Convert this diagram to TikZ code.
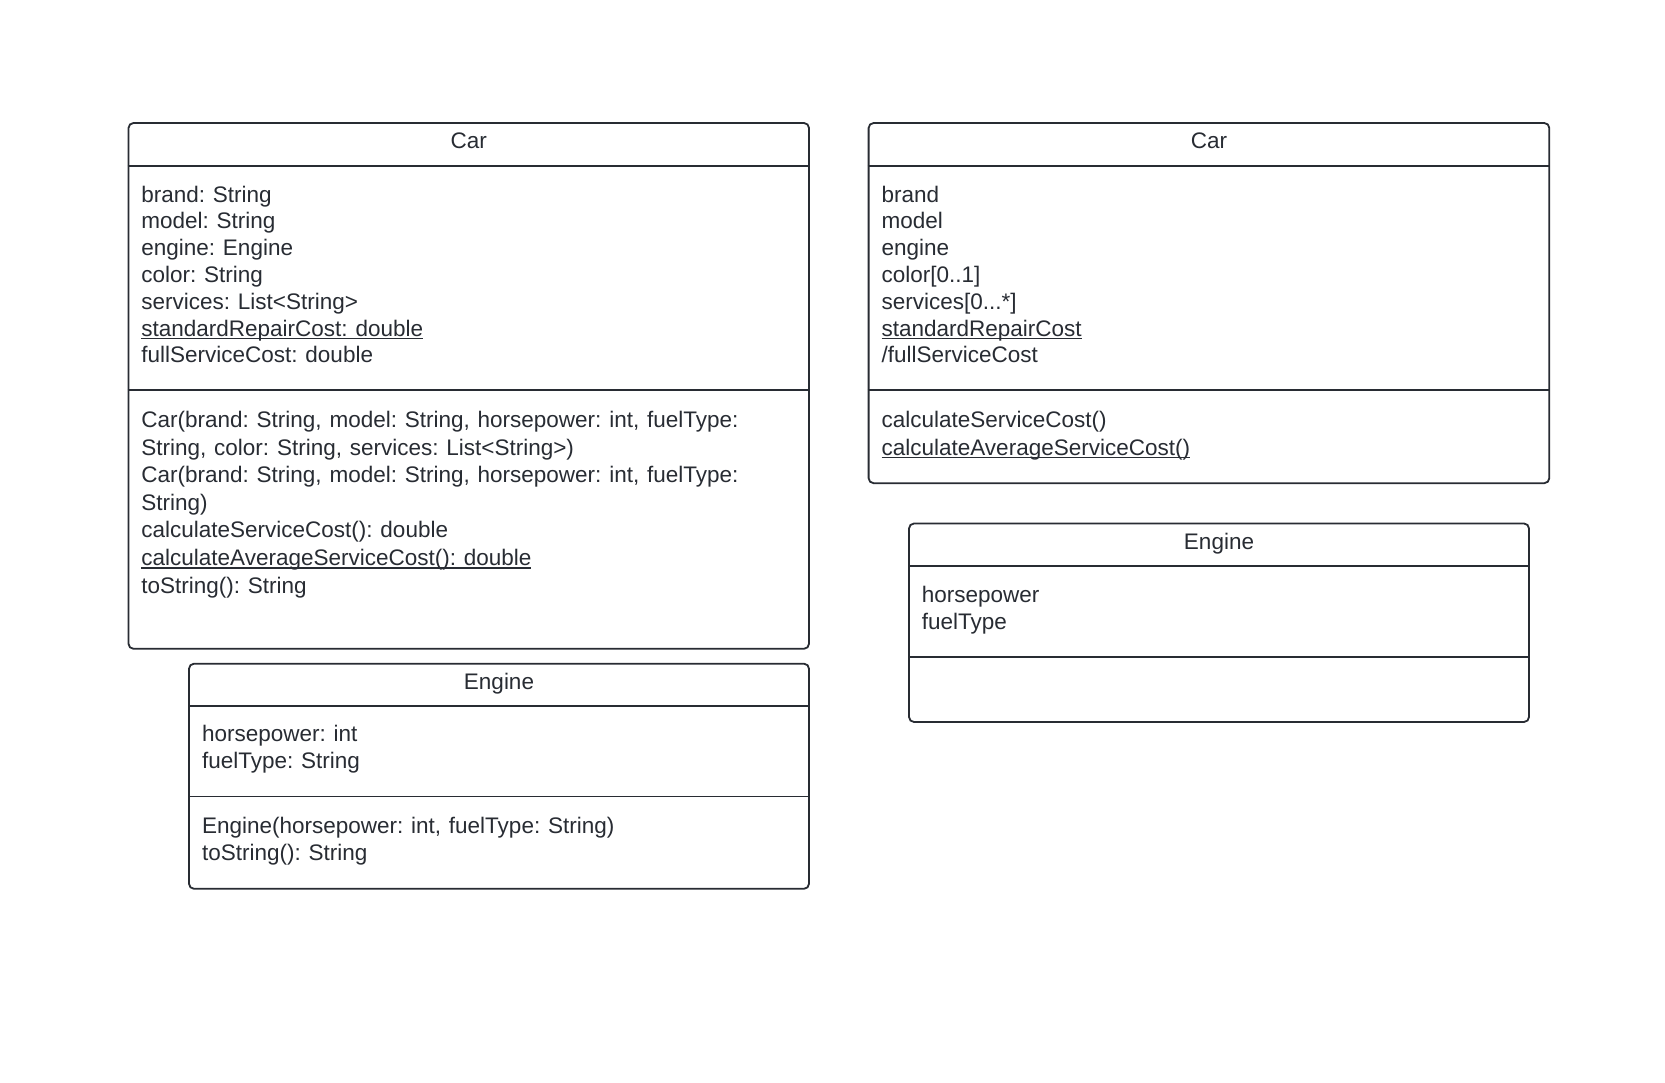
\documentclass[tikz,border=0pt]{standalone}
\usepackage{fontspec}
\setmainfont{Liberation Sans}
\frenchspacing
\definecolor{ink}{HTML}{282C33}
\newsavebox\ulbox
\newcommand\ulx[1]{\sbox\ulbox{#1}\rlap{\rule[-3pt]{\wd\ulbox}{1.2pt}}\usebox\ulbox}
\newcommand\umlfont{\fontsize{22.5}{27}\selectfont\spaceskip=7.8pt\relax}
\tikzset{
  umlbox/.style={draw=ink, line width=1.8pt, rounded corners=5pt, fill=white, inner sep=0pt},
  sepline/.style={draw=ink, line width=1.8pt},
  txt/.style={anchor=base west, inner sep=0pt, text=ink, font=\umlfont},
  ttl/.style={anchor=base, inner sep=0pt, text=ink, font=\umlfont},
}
\begin{document}
\begin{tikzpicture}[x=1pt,y=-1pt]
\useasboundingbox[fill=white] (0,0) rectangle (1665,1083);

% ---------- Left Car ----------
\node[umlbox, minimum width=680.5pt, minimum height=525.8pt] (car1) at (468.75,385.9) {};
\draw[sepline] (car1.west |- 0,165.7) -- (car1.east |- 0,165.7);
\draw[sepline] (car1.west |- 0,389.7) -- (car1.east |- 0,389.7);
\node[ttl] (car1t) at (468.75,149) {Car};
\node[txt] (c1a1) at (141.2,202.3) {brand: String};
\node[txt] (c1a2) at (141.2,229.0) {model: String};
\node[txt] (c1a3) at (141.2,255.8) {engine: Engine};
\node[txt] (c1a4) at (141.2,282.5) {color: String};
\node[txt] (c1a5) at (141.2,309.2) {services: List<String>};
\node[txt] (c1a6) at (141.2,336.0) {\ulx{standardRepairCost: double}};
\node[txt] (c1a7) at (141.2,362.7) {fullServiceCost: double};
\node[txt] (c1m1) at (141.2,427.5) {Car(brand: String, model: String, horsepower: int, fuelType:};
\node[txt] (c1m2) at (141.2,455.1) {String, color: String, services: List<String>)};
\node[txt] (c1m3) at (141.2,482.7) {Car(brand: String, model: String, horsepower: int, fuelType:};
\node[txt] (c1m4) at (141.2,510.3) {String)};
\node[txt] (c1m5) at (141.2,537.9) {calculateServiceCost(): double};
\node[txt] (c1m6) at (141.2,565.5) {\ulx{calculateAverageServiceCost(): double}};
\node[txt] (c1m7) at (141.2,593.1) {toString(): String};

% ---------- Left Engine ----------
\node[umlbox, minimum width=620pt, minimum height=225.1pt] (eng1) at (499,776.25) {};
\draw[sepline] (eng1.west |- 0,706.2) -- (eng1.east |- 0,706.2);
\draw[sepline] (eng1.west |- 0,796.4) -- (eng1.east |- 0,796.4);
\node[ttl] (eng1t) at (499,689.7) {Engine};
\node[txt] (e1a1) at (201.8,741.8) {horsepower: int};
\node[txt] (e1a2) at (201.8,768.3) {fuelType: String};
\node[txt] (e1m1) at (201.8,833.1) {Engine(horsepower: int, fuelType: String)};
\node[txt] (e1m2) at (201.8,860.7) {toString(): String};

% ---------- Right Car ----------
\node[umlbox, minimum width=680.7pt, minimum height=360.2pt] (car2) at (1208.95,303.1) {};
\draw[sepline] (car2.west |- 0,165.7) -- (car2.east |- 0,165.7);
\draw[sepline] (car2.west |- 0,389.7) -- (car2.east |- 0,389.7);
\node[ttl] (car2t) at (1208.95,149) {Car};
\node[txt] (c2a1) at (881.4,202.3) {brand};
\node[txt] (c2a2) at (881.4,229.0) {model};
\node[txt] (c2a3) at (881.4,255.8) {engine};
\node[txt] (c2a4) at (881.4,282.5) {color[0..1]};
\node[txt] (c2a5) at (881.4,309.2) {services[0...*]};
\node[txt] (c2a6) at (881.4,336.0) {\ulx{standardRepairCost}};
\node[txt] (c2a7) at (881.4,362.7) {/fullServiceCost};
\node[txt] (c2m1) at (881.4,427.5) {calculateServiceCost()};
\node[txt] (c2m2) at (881.4,455.1) {\ulx{calculateAverageServiceCost()}};

% ---------- Right Engine ----------
\node[umlbox, minimum width=620pt, minimum height=198.5pt] (eng2) at (1219,622.75) {};
\draw[sepline] (eng2.west |- 0,566.0) -- (eng2.east |- 0,566.0);
\draw[sepline] (eng2.west |- 0,657.3) -- (eng2.east |- 0,657.3);
\node[ttl] (eng2t) at (1219,549.6) {Engine};
\node[txt] (e2a1) at (921.7,602.7) {horsepower};
\node[txt] (e2a2) at (921.7,629.2) {fuelType};
\end{tikzpicture}
\end{document}
